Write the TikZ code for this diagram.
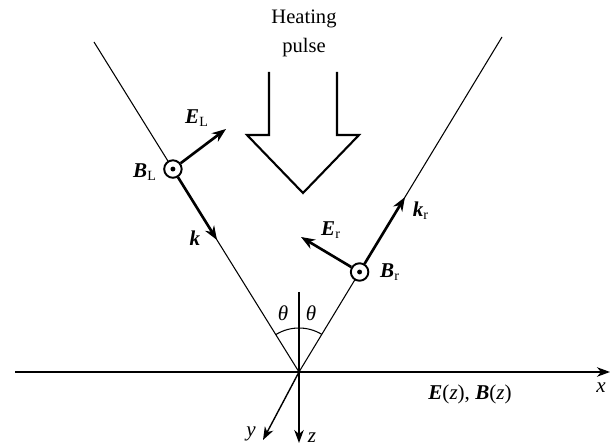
\documentclass[tikz,border=0pt]{standalone}
\usepackage{fontspec}
\setmainfont{Liberation Serif}
\usetikzlibrary{arrows.meta, calc}
\newcommand{\bv}[1]{\textbf{\textit{#1}}}

\begin{document}
\begin{tikzpicture}[
  x=0.02cm, y=-0.02cm,
  beam/.style={line width=0.6pt},
  axis/.style={-{Stealth[length=2.6mm, width=1.9mm, inset=0.8mm]}, line width=0.8pt},
  vec/.style={-{Stealth[length=2.8mm, width=2.1mm, inset=0.9mm]}, line width=1.5pt},
  bfield/.style={circle, draw, fill=white, line width=1.1pt, minimum size=0.35cm, inner sep=0pt,
    path picture={\fill[black] (path picture bounding box.center) circle (1.4pt);}},
  lbl/.style={font=\fontsize{12}{14}\selectfont, inner sep=1pt}
]
\useasboundingbox (0,0) rectangle (613,445);

\coordinate (O) at (299,372);
\coordinate (L) at (94,42);
\coordinate (R) at (502,37);
\coordinate (xs) at (15,372);
\coordinate (xe) at (610,372);
\coordinate (zs) at (299,292);
\coordinate (ze) at (299,443);
\coordinate (ye) at (263,440);

% beams and axes
\draw[beam] (L) -- (O) -- (R);
\draw[axis] (xs) -- (xe);
\draw[axis] (zs) -- (ze);
\draw[axis] (O) -- (ye);
\draw[beam] (O) ++(238.5:44) arc[start angle=238.5, end angle=301.5, radius=44];

% heating pulse
\draw[line width=1.2pt] (269,72) -- (269,135) -- (247,135) -- (303,193) -- (359,135) -- (337,135) -- (337,72);
\node[lbl, align=center, font=\fontsize{11.7}{16.5}\selectfont] (heat) at (304,33) {Heating\\pulse};

% left wave
\node[bfield] (bL) at ($(O)!0.615!(L)$) {};
\coordinate (kL) at ($(O)!0.4!(L)$);
\coordinate (eL) at (226,129);
\draw[vec] (bL) -- (eL);
\draw[vec] (bL) -- (kL);

% right wave
\node[bfield] (bR) at ($(O)!0.2985!(R)$) {};
\coordinate (kR) at ($(O)!0.522!(R)$);
\coordinate (eR) at (301,237);
\draw[vec] (bR) -- (eR);
\draw[vec] (bR) -- (kR);

% labels
\node[lbl] (BLl) at (145,172) {\bv{B}\textsubscript{L}};
\node[lbl] (ELl) at (197,118) {\bv{E}\textsubscript{L}};
\node[lbl] (kLl) at (195,238) {\bv{k}};
\node[lbl] (BRl) at (390,272) {\bv{B}\textsubscript{r}};
\node[lbl] (ERl) at (331,230) {\bv{E}\textsubscript{r}};
\node[lbl] (kRl) at (421,211) {\bv{k}\textsubscript{r}};
\node[lbl] (th1) at (283,313) {\textit{θ}};
\node[lbl] (th2) at (311,313) {\textit{θ}};
\node[lbl] (xl) at (601,388) {\textit{x}};
\node[lbl] (yl) at (251,434) {\textit{y}};
\node[lbl] (zl) at (312,438) {\textit{z}};
\node[lbl] (EB) at (470,394) {\bv{E}(\textit{z}), \bv{B}(\textit{z})};
\end{tikzpicture}
\end{document}
